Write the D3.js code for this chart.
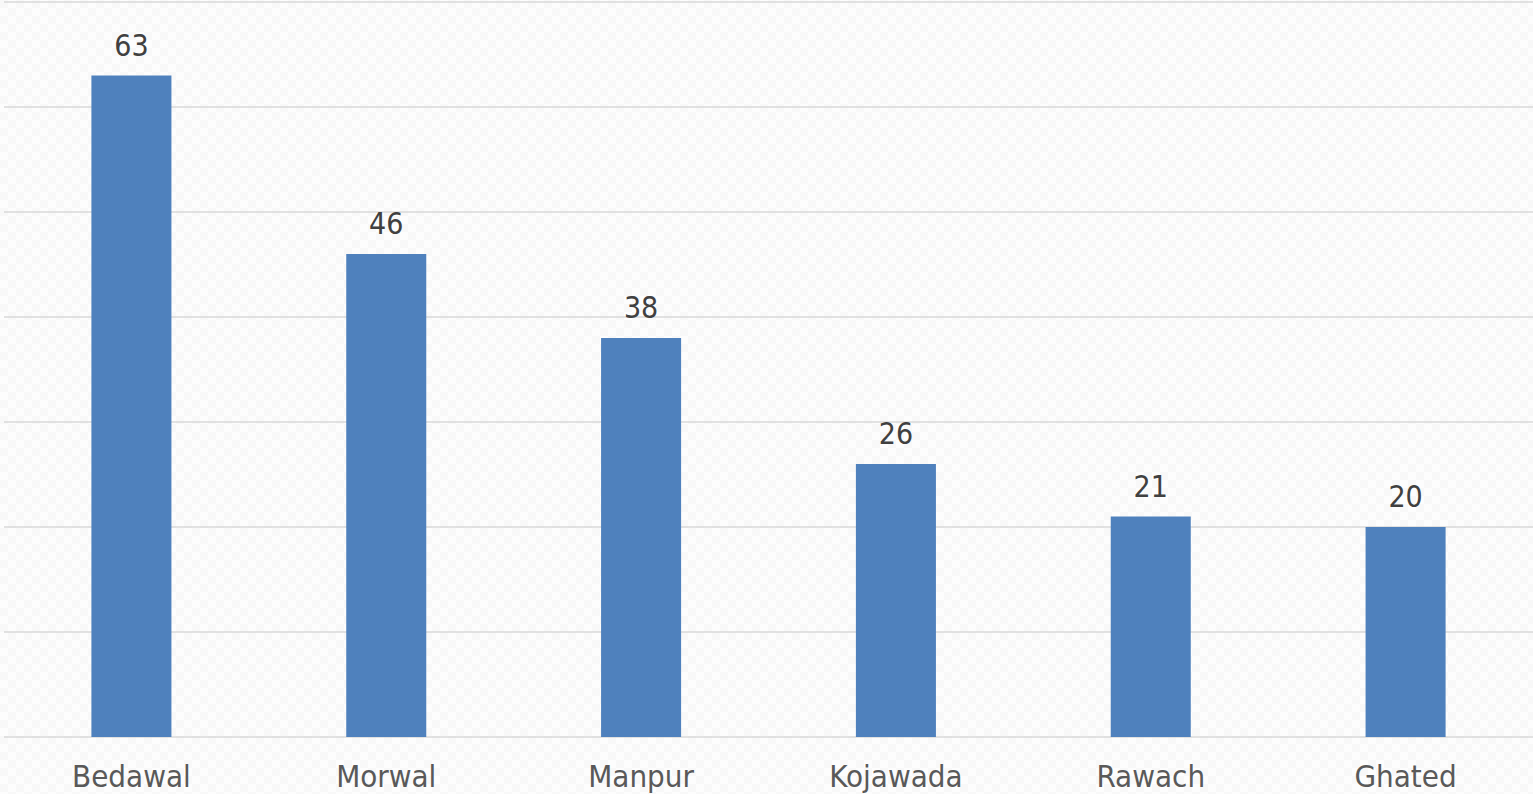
<!DOCTYPE html>
<html lang="en">
<head>
    <meta charset="UTF-8">
    <title>Bar chart</title>
    <script src="https://cdnjs.cloudflare.com/ajax/libs/d3/7.8.5/d3.min.js"></script>
    <style>
        body { margin: 0; background: #fbfbfb; }
    </style>
</head>
<body>
    <div id="wrapper"></div>
    <script>
        const villages = ['Bedawal', 'Morwal', 'Manpur', 'Kojawada', 'Rawach', 'Ghated']
        const counts = [63, 46, 38, 26, 21, 20]
        const gridTicks = [0, 10, 20, 30, 40, 50, 60, 70]

        function drawBars() {
            const dimensions = {
                width: 1533,
                height: 794,
                margin: { top: 2, right: 0, bottom: 57, left: 4 }
            }
            dimensions.boundedWidth = dimensions.width - dimensions.margin.left - dimensions.margin.right
            dimensions.boundedHeight = dimensions.height - dimensions.margin.top - dimensions.margin.bottom

            const svg = d3.select('#wrapper')
                .append('svg')
                    .attr('width', dimensions.width)
                    .attr('height', dimensions.height)
                    .style('display', 'block')

            // faint checker texture like the original background
            const pattern = svg.append('defs').append('pattern')
                .attr('id', 'checker')
                .attr('width', 16)
                .attr('height', 16)
                .attr('patternUnits', 'userSpaceOnUse')
            pattern.append('rect').attr('width', 16).attr('height', 16).attr('fill', '#fdfdfd')
            pattern.append('rect').attr('width', 8).attr('height', 8).attr('fill', '#f8f8f8')
            pattern.append('rect').attr('x', 8).attr('y', 8).attr('width', 8).attr('height', 8).attr('fill', '#f8f8f8')

            svg.append('rect')
                .attr('width', dimensions.width)
                .attr('height', dimensions.height)
                .attr('fill', 'url(#checker)')

            const bounds = svg.append('g')
                .attr('transform', `translate(${dimensions.margin.left},${dimensions.margin.top})`)

            const xScale = d3.scaleBand()
                .domain(villages)
                .range([0, dimensions.boundedWidth])
                .paddingInner(0.686)
                .paddingOuter(0.343)

            const yScale = d3.scaleLinear()
                .domain([0, 70])
                .range([dimensions.boundedHeight, 0])

            // gridlines
            bounds.append('g')
                .selectAll('line')
                .data(gridTicks)
                .join('line')
                    .attr('x1', 0)
                    .attr('x2', dimensions.boundedWidth)
                    .attr('y1', d => yScale(d))
                    .attr('y2', d => yScale(d))
                    .attr('stroke', '#d9d9d9')
                    .attr('stroke-width', 1.5)

            const data = villages.map((v, i) => ({ name: v, value: counts[i] }))

            bounds.append('g')
                .selectAll('rect')
                .data(data)
                .join('rect')
                    .attr('x', d => xScale(d.name))
                    .attr('y', d => yScale(d.value))
                    .attr('width', xScale.bandwidth())
                    .attr('height', d => dimensions.boundedHeight - yScale(d.value))
                    .attr('fill', '#4f81bd')

            // value labels
            bounds.append('g')
                .selectAll('text')
                .data(data)
                .join('text')
                    .attr('x', d => xScale(d.name) + xScale.bandwidth() / 2)
                    .attr('y', d => yScale(d.value) - 20)
                    .attr('text-anchor', 'middle')
                    .attr('fill', '#404040')
                    .style('font-family', '"DejaVu Sans Condensed", "DejaVu Sans", sans-serif')
                    .style('font-size', '30px')
                    .text(d => d.value)

            // category axis
            const xAxis = bounds.append('g')
                .attr('transform', `translate(0,${dimensions.boundedHeight})`)
                .call(d3.axisBottom(xScale).tickSize(0).tickPadding(0))
            xAxis.select('.domain').remove()
            xAxis.selectAll('text')
                .attr('dy', null)
                .attr('y', 50)
                .attr('fill', '#595959')
                .style('font-family', '"DejaVu Sans Condensed", "DejaVu Sans", sans-serif')
                .style('font-size', '31px')
        }

        drawBars()
    </script>
</body>
</html>
